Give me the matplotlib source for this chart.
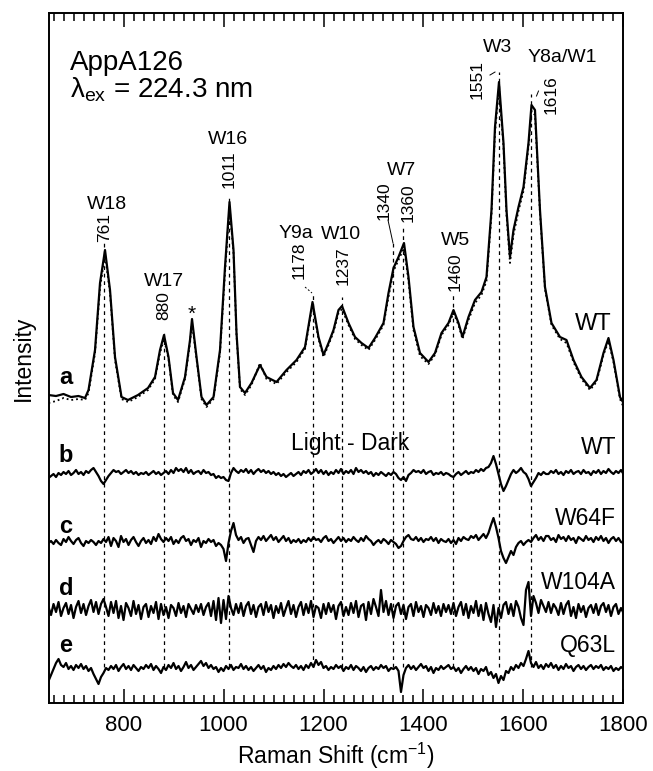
import numpy as np
import matplotlib
matplotlib.use('Agg')
import matplotlib.pyplot as plt
from matplotlib.ticker import MultipleLocator

plt.rcParams['font.family'] = ['Liberation Sans', 'DejaVu Sans']
plt.rcParams['mathtext.fontset'] = 'custom'
plt.rcParams['mathtext.rm'] = 'Liberation Sans'
plt.rcParams['mathtext.it'] = 'Liberation Sans:italic'

# Raman shift (cm-1) of the WT absolute spectrum (trace a)
shift_a = [650, 665, 680, 695, 710, 723, 730, 743, 753, 763,
           773, 783, 796, 809, 829, 849, 863, 873, 881, 890,
           899, 909, 923, 933, 937, 946, 956, 966, 980, 993,
           1003, 1012, 1020, 1026, 1033, 1043, 1056, 1073, 1086, 1106,
           1126, 1146, 1163, 1178, 1190, 1200, 1210, 1220, 1230, 1237,
           1250, 1263, 1276, 1290, 1303, 1320, 1330, 1340, 1350, 1361,
           1370, 1380, 1393, 1410, 1423, 1436, 1450, 1460, 1470, 1478,
           1490, 1503, 1516, 1526, 1536, 1543, 1551, 1560, 1566, 1573,
           1580, 1590, 1600, 1610, 1616, 1623, 1633, 1643, 1656, 1673,
           1686, 1700, 1716, 1733, 1746, 1760, 1770, 1780, 1793, 1800]

# intensity (arb. units) - solid trace
wt_dark = [308, 307, 309, 306, 307, 305, 313, 353, 420, 453,
           413, 346, 306, 303, 308, 315, 326, 353, 368, 346,
           310, 303, 326, 363, 384, 346, 306, 298, 306, 353,
           436, 501, 453, 370, 316, 310, 320, 338, 326, 321,
           333, 343, 356, 401, 366, 348, 360, 373, 393, 397,
           380, 366, 360, 355, 365, 380, 410, 435, 446, 460,
           426, 376, 350, 341, 350, 370, 380, 393, 380, 366,
           386, 403, 411, 426, 493, 576, 621, 560, 493, 446,
           473, 496, 516, 560, 598, 593, 493, 416, 380, 366,
           363, 343, 326, 315, 323, 350, 365, 343, 306, 300]

# intensity (arb. units) - dotted trace
wt_light = [300, 302, 305, 303, 304, 303, 310, 350, 415, 448,
            410, 343, 304, 301, 306, 313, 324, 350, 364, 344,
            308, 301, 324, 360, 380, 344, 304, 296, 304, 350,
            430, 496, 450, 368, 314, 308, 318, 340, 324, 319,
            331, 341, 354, 398, 364, 346, 358, 371, 390, 394,
            378, 364, 358, 353, 363, 378, 406, 432, 443, 455,
            422, 373, 347, 339, 348, 368, 378, 390, 378, 364,
            383, 400, 408, 422, 488, 570, 615, 556, 488, 440,
            468, 492, 512, 556, 592, 588, 490, 414, 378, 364,
            360, 341, 324, 313, 321, 348, 362, 341, 304, 296]

# Light - Dark difference spectra, sampled every 5 cm-1 from 650 to 1800
shift_diff = np.arange(650, 1801, 5)

diff_wt = [-2, 0, 2, -1, 3, 1, 4, 2, 5, 1, 3, 6, 2, 4, 1, 5, 3, 6, 8, 4,
           0, -5, -8, -4, 0, 3, 6, 4, 5, 2, 4, 6, 3, 5, 2, 4, 1, 3, 2, 4,
           1, 3, 5, 2, 4, 1, 3, 5, 2, 6, 3, 8, 5, 7, 4, 8, 3, 6, 2, 4,
           5, 2, 6, 3, 4, 1, 2, -2, 0, -2, -1, -4, -5, 3, 8, 5, 3, 6, 4, 7,
           3, 6, 2, 5, 7, 4, 6, 3, 5, 2, 4, 1, 3, 0, 2, -1, 1, 3, 0, 2,
           4, 1, 5, 3, 6, 2, 4, 7, 3, 6, 2, 5, 1, 4, 2, 6, 3, 7, 2, 5,
           3, 6, 2, 8, 4, 6, 3, 5, 2, 4, 0, 3, 1, 4, 2, 0, 3, 1, 4, 2,
           -2, -4, -1, -5, 1, 3, 6, 4, 5, 3, 6, 2, 4, 5, 1, 3, 2, 4, 1, 3,
           2, 0, -1, 2, 4, 1, 3, 5, 2, 4, 3, 6, 4, 7, 5, 8, 9, 13, 20, 12,
           2, -8, -15, -10, -4, 2, 6, 3, 5, 8, 4, 2, -3, -10, -6, -2, 3, 1, 4, 2,
           2, 5, 3, 6, 2, 4, 1, 5, 3, 6, 2, 4, 5, 2, 6, 3, 4, 1, 5, 3,
           6, 2, 5, 3, 7, 4, 2, 5, 3, 6, 2]

diff_w64f = [0, 2, -1, 3, 0, -2, 4, 1, 6, 2, -1, 3, 5, 0, -3, 2, 0, 3, 1, -2,
             2, 0, 4, 1, 6, -3, 5, 2, -4, 7, 1, 4, -2, 3, 6, 1, -3, 2, 5, 0,
             3, -1, 6, 2, 9, 4, 1, 5, 2, 6, -1, 3, 0, 5, 7, 2, 4, -2, 3, 1,
             5, -4, 2, 0, 4, 1, 3, -3, 0, -2, -6, -18, 0, 12, 20, 8, 3, 6, 0, 4,
             5, -2, -9, 2, 6, 3, 7, 2, 5, 8, 3, 6, 1, 4, 7, 2, 5, 0, 3, 1,
             4, 0, 3, 1, 5, 2, 6, 3, 4, 1, 5, 7, 2, 4, 0, 3, 6, 2, 5, 1,
             4, 2, 6, 3, 1, 5, 2, 7, 4, 2, -2, 1, 3, 0, 4, 2, -1, 3, 1, -1,
             -5, -3, 2, 6, 8, 4, 3, 6, 2, 5, 1, 4, 3, 6, 2, 5, 0, 4, 2, 1,
             4, 0, 3, -1, 5, 2, 6, 4, 3, 7, 5, 8, 3, 6, 9, 5, 10, 18, 25, 16,
             5, -8, -15, -20, -14, -8, -12, -4, 0, 2, -2, 1, 3, 1, 5, 8, 3, 6, 2, 7,
             7, 3, 5, 1, 8, 4, 6, 2, 7, 3, 5, 0, 6, 4, 2, 7, 3, 5, 1, 6,
             3, 7, 2, 5, 0, 4, 6, 2, 5, 1, 0]

diff_w104a = [3, -5, 6, -2, 8, -6, 2, 7, -4, 5, -8, 3, 9, -3, 6, -5, 4, 10, -2, 8,
              -4, 6, 11, 3, -6, 8, -3, 9, -8, 4, -10, 7, 2, -6, 9, -4, 5, -9, 3, 6,
              -7, 4, -3, 8, -9, 6, -5, 3, -8, 5, 2, -6, 7, -3, 4, -7, 6, 1, -4, 5,
              -2, 6, -5, 3, 7, -6, 9, -10, 12, -13, 10, -9, 14, 2, -5, 6, -3, 7, -6, 4,
              8, -4, 5, -7, 3, 6, -5, 8, -2, 5, -8, 4, -3, 7, -6, 2, 9, -4, 5, -7,
              3, 8, -5, 6, -3, 9, -7, 4, 2, -8, 6, -4, 7, -2, 5, -9, 4, 8, -6, 3,
              -5, 7, -3, 9, -7, 4, 6, -10, 8, -4, 11, 3, -6, 20, -2, 9, -5, 6, -8, 4,
              7, -4, 5, -9, 3, 6, -6, 8, -2, 4, -7, 5, 2, -5, 7, -3, 4, -6, 6, -2,
              5, -4, 7, -6, 3, 8, -5, 6, -8, 4, -3, 9, -6, 5, -10, 7, -4, -12, 5, -17,
              2, -8, 5, 8, -4, 6, -6, 9, 3, -8, -15, 20, 28, -6, 14, 7, -3, 10, 4, -2,
              8, -3, 6, 2, -5, 7, -4, 5, 9, -6, 3, -8, 6, -2, 4, -7, 2, 5, -3, 6,
              -5, 4, 7, -2, 5, -6, 3, 6, -4, 2, -3]

diff_q63l = [-10, -4, 2, 8, 12, 6, 4, 8, 2, 5, 1, 6, 3, 7, 2, 5, 0, 3, -3, -8,
             -13, -6, -2, 3, 1, 5, 2, 6, 0, 4, 7, 2, 5, 1, 6, 3, 0, 4, 2, 6,
             3, 7, 1, 5, 2, -2, 4, 1, 6, 3, 8, 2, 5, 0, 4, 9, 3, 6, 1, 4,
             7, 10, 5, 8, 3, 6, 2, 4, -1, 3, 0, 5, 2, 6, 1, 4, 3, 7, 2, 5,
             1, 4, 0, 3, 6, 2, 5, -1, 3, 1, 5, 2, 6, 3, 7, 4, 8, 5, 3, 6,
             2, 5, 1, 6, 3, 8, 4, 11, 6, 9, 3, 5, 1, 4, 2, 6, 3, 5, 0, 4,
             2, 6, 1, 5, 3, 0, 4, -1, 3, 5, 1, 4, 2, 6, 3, 5, 0, 3, 2, 4,
             0, -21, -4, 3, 6, 2, 5, 1, 4, 7, 3, 5, 0, 4, -2, 3, 1, 5, 2, 4,
             6, 2, 4, 0, 3, -2, 2, 5, 1, 4, 0, 3, -3, 2, 0, 4, -4, -1, -7, -3,
             -12, -5, -9, 0, -2, 4, 1, 6, 3, 8, 5, 12, 20, 8, 4, 9, 3, 6, 2, 7,
             4, 8, 3, 6, 1, 5, 2, 7, 3, 5, 0, 4, 6, 2, 5, 1, 4, 6, 2, 5,
             3, 6, 1, 4, 2, 5, 0, 3, 1, 4, 2]

diff_names = ['WT', 'W64F', 'W104A', 'Q63L']
diff_letters = ['b', 'c', 'd', 'e']

# band positions (cm-1)
bands = [761, 880, 1011, 1178, 1237, 1340, 1360, 1460, 1551, 1616]

# --- layout
fig = plt.figure(figsize=(6.53, 7.71), dpi=100)
ax = fig.add_axes([0.0743, 0.0882, 0.8805, 0.8949])

ax.plot(shift_a, wt_light, color='k', lw=1.3, ls=':')
ax.plot(shift_a, wt_dark, color='k', lw=1.6)

offsets = [227, 160, 93, 32]
for vals, off in zip([diff_wt, diff_w64f, diff_w104a, diff_q63l], offsets):
    ax.plot(shift_diff, np.array(vals) + off, color='k', lw=1.6)

# dashed markers through all traces
tops = [460, 370, 506, 410, 406, 460, 476, 410, 631, 609]
ax.vlines(bands, 36, tops, colors='k', linestyles=(0, (3, 3)), lw=0.9)

# rotated band numbers
num_xy = [(763, 476), (881, 397), (1011, 534), (1151, 443), (1239, 437),
          (1321, 502), (1369, 500), (1463, 431), (1507, 624), (1655, 608)]
for b, (x, y) in zip(bands, num_xy):
    ax.text(x, y, str(b), rotation=90, ha='center', va='center', fontsize=12.5)

# little leader lines
ax.plot([1163, 1177], [416, 410], color='k', lw=0.7, ls=(0, (2, 2)))
ax.plot([1329, 1339], [483, 460], color='k', lw=0.7)
ax.plot([1533, 1543], [628, 631], color='k', lw=0.7)
ax.plot([1626, 1630], [607, 612], color='k', lw=0.7)

# mode labels
modes = [('W18', 767, 499), ('W17', 881, 422), ('W16', 1009, 564),
         ('Y9a', 1145, 470), ('W10', 1235, 469), ('W7', 1357, 533),
         ('W5', 1465, 463), ('W3', 1549, 656), ('Y8a/W1', 1677, 646)]
for txt, x, y in modes:
    ax.text(x, y, txt, ha='center', va='center', fontsize=14)
ax.text(937, 389, '*', ha='center', va='center', fontsize=15)

ax.text(693, 633, 'AppA126', fontsize=20, va='baseline')
ax.text(693, 606, r'λ$_{\mathrm{ex}}$ = 224.3 nm', fontsize=20, va='baseline')

ax.text(1739, 379, 'WT', ha='center', va='center', fontsize=17)
ax.text(1253, 260, 'Light - Dark', ha='center', va='center', fontsize=16.5)
right_y = [256, 185, 121, 58]
for name, y in zip(diff_names, right_y):
    ax.text(1785, y, name, ha='right', va='center', fontsize=16.5)

letter_y = [326, 248, 177, 115, 58]
for lt, y in zip(['a'] + diff_letters, letter_y):
    ax.text(685, y, lt, ha='center', va='center', fontsize=17, fontweight='bold')

# axes styling
ax.set_xlim(650, 1800)
ax.set_ylim(0, 690)
ax.set_yticks([])
ax.set_xticks(range(800, 1801, 200))
ax.xaxis.set_minor_locator(MultipleLocator(20))
ax.tick_params(axis='x', which='both', direction='in', top=True, bottom=True,
               labelsize=16, width=1.1)
ax.tick_params(axis='x', which='major', length=10, pad=9)
ax.tick_params(axis='x', which='minor', length=5.5)
for sp in ax.spines.values():
    sp.set_linewidth(1.4)

ax.set_xlabel(r'Raman Shift (cm$^{\mathrm{-1}}$)', fontsize=16.5, labelpad=3)
ax.set_ylabel('Intensity', fontsize=16.5, labelpad=10)

fig.savefig('out.png', dpi=100)
